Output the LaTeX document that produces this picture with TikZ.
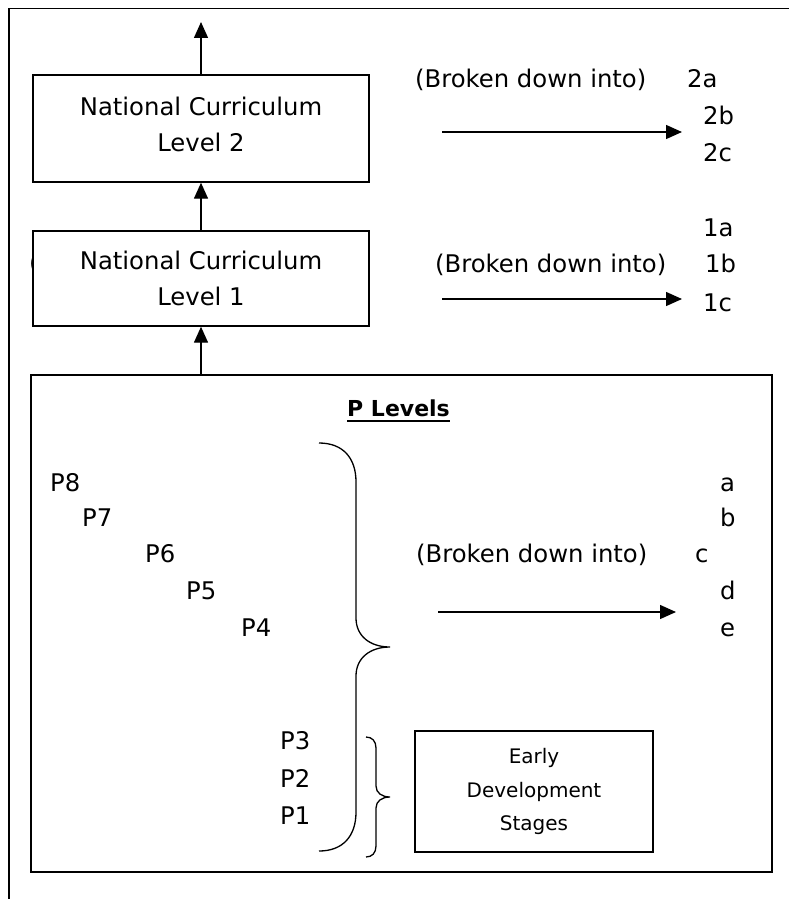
\documentclass[tikz,border=0pt]{standalone}
\usepackage{fontspec}
\setmainfont{DejaVu Sans}
\usetikzlibrary{arrows.meta}
\begin{document}
\begin{tikzpicture}[x=1pt,y=-1pt,
  frame/.style={line width=1.4pt},
  box/.style={draw, line width=1.4pt, fill=white, inner sep=0pt, align=center,
    font=\fontsize{24.3}{35.5}\selectfont},
  lbl/.style={anchor=base west, inner sep=0pt, font=\fontsize{24.3}{29}\selectfont},
  arr/.style={line width=1.4pt, -{Triangle[length=16pt,width=14pt]}},
  brace/.style={line width=1.3pt}]
\useasboundingbox (0,0) rectangle (789,899);
% outer frame
\draw[frame] (9,899) -- (9,8.5) -- (789,8.5);
% level boxes
\node[box, minimum width=336pt, minimum height=107pt, text depth=8pt] (L2) at (201,128.5) {National Curriculum\\Level 2};
\node[lbl] (par) at (29,271) {(};
\node[box, minimum width=336pt, minimum height=95pt] (L1) at (201,278.5) {National Curriculum\\Level 1};
\node[box, minimum width=741pt, minimum height=497pt] (P) at (401.5,623.5) {};
\node[box, font=\fontsize{20}{33.5}\selectfont, minimum width=238pt, minimum height=121pt] (E) at (534,791.5) {Early\\Development\\Stages};
% vertical arrows
\coordinate (top) at (201,22);
\draw[arr] (L2.north) -- (top);
\draw[arr] (L1.north) -- (L2.south);
\draw[arr] (P.north -| L1.south) -- (L1.south);
% level 2 breakdown
\node[lbl] (bd2) at (415,87) {(Broken down into)};
\node[lbl] (t2a) at (687,87) {2a};
\node[lbl] (t2b) at (703,124) {2b};
\node[lbl] (t2c) at (703,161) {2c};
\coordinate (a2s) at (442,132);
\coordinate (a2e) at (682,132);
\draw[arr] (a2s) -- (a2e);
% level 1 breakdown
\node[lbl] (t1a) at (703,236) {1a};
\node[lbl] (bd1) at (435,272) {(Broken down into)};
\node[lbl] (t1b) at (705,272) {1b};
\node[lbl] (t1c) at (703,311) {1c};
\coordinate (a1s) at (442,299);
\coordinate (a1e) at (682,299);
\draw[arr] (a1s) -- (a1e);
% P levels
\node[lbl, font=\bfseries\fontsize{22}{26}\selectfont] (PL) at (347,416) {P Levels};
\draw[line width=2pt] ([yshift=-4.5pt]PL.base west) -- ([yshift=-4.5pt]PL.base east);
\node[lbl] (p8) at (50,491) {P8};
\node[lbl] (p7) at (82,526) {P7};
\node[lbl] (p6) at (145,562) {P6};
\node[lbl] (p5) at (186,599) {P5};
\node[lbl] (p4) at (241,636) {P4};
\node[lbl] (p3) at (280,749) {P3};
\node[lbl] (p2) at (280,787) {P2};
\node[lbl] (p1) at (280,824) {P1};
\node[lbl] (la) at (720,491) {a};
\node[lbl] (lb) at (720,526) {b};
\node[lbl] (lc) at (695,562) {c};
\node[lbl] (ld) at (720,599) {d};
\node[lbl] (le) at (720,636) {e};
\node[lbl] (bdp) at (416,562) {(Broken down into)};
\coordinate (aps) at (438,612);
\coordinate (ape) at (676,612);
\draw[arr] (aps) -- (ape);
% big brace
\draw[brace] (319,443) .. controls (343,443) and (356,458) .. (356,482)
  -- (356,618) .. controls (356,636) and (370,647) .. (390,647)
  .. controls (370,647) and (356,658) .. (356,676)
  -- (356,812) .. controls (356,836) and (343,851) .. (319,851);
% small brace
\draw[brace] (366,737) .. controls (372,737) and (376,741) .. (376,748)
  -- (376,786) .. controls (376,793) and (382,797) .. (390,797)
  .. controls (382,797) and (376,801) .. (376,808)
  -- (376,846) .. controls (376,853) and (372,857) .. (366,857);
\end{tikzpicture}
\end{document}
